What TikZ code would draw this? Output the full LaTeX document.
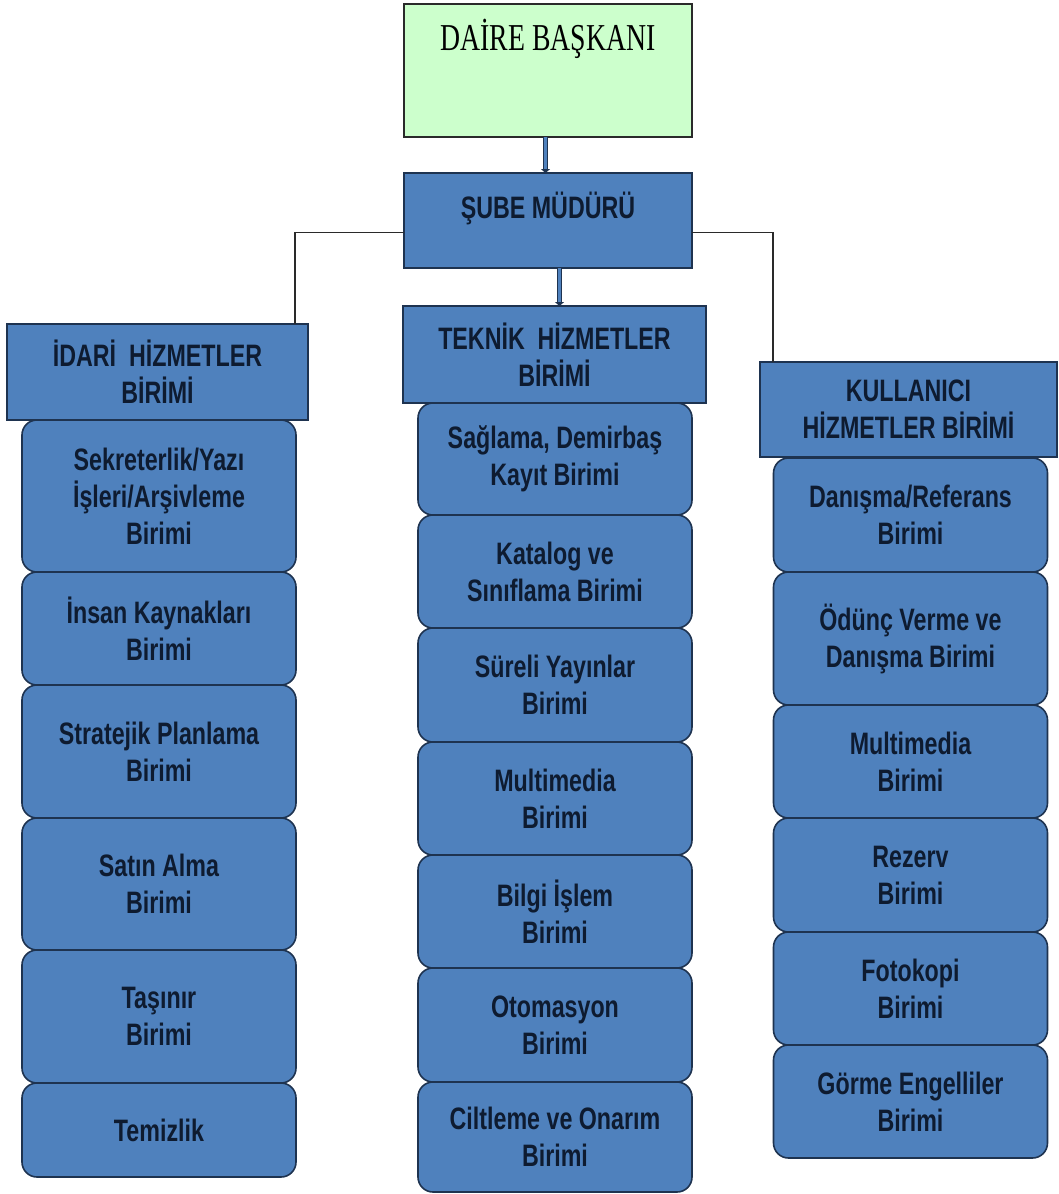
\documentclass[tikz,border=0pt]{standalone}
\usepackage{fontspec}
\usetikzlibrary{arrows.meta}
\newfontfamily\unitfont[FakeStretch=0.75]{Liberation Sans}
\newfontfamily\chieffont[FakeStretch=0.73]{Liberation Serif}
\definecolor{unitblue}{HTML}{4F81BD}
\definecolor{unitedge}{HTML}{1E3350}
\definecolor{unittext}{HTML}{0E1B30}
\definecolor{chiefgreen}{HTML}{CCFFCC}
\definecolor{linegray}{HTML}{2A2A2A}
\tikzset{
  unit/.style={draw=unitedge, fill=unitblue, rounded corners=15pt, line width=1.6pt,
    minimum width=274pt, inner sep=0pt, outer sep=0pt, align=center, text=unittext,
    font=\unitfont\bfseries\fontsize{31}{37}\selectfont},
  header/.style={draw=unitedge, fill=unitblue, line width=1.6pt, inner sep=0pt,
    outer sep=0pt, align=center, text=unittext,
    font=\unitfont\bfseries\fontsize{31}{37}\selectfont},
  link/.style={draw=linegray, line width=1.5pt},
  feed/.style={draw=unitedge, line width=1.2pt, double=unitblue, double distance=2.6pt,
    -{Triangle[length=4pt,width=9pt]}}
}
\begin{document}
\begin{tikzpicture}[x=1pt,y=-1pt]
\useasboundingbox (0,0) rectangle (1058,1194);
% top of the chart
\node[draw=linegray, fill=chiefgreen, line width=1.6pt, inner sep=0pt, outer sep=0pt,
  minimum width=288pt, text height=46pt, text depth=87pt, anchor=base, text=black,
  font=\chieffont\fontsize{38}{40}\selectfont] (daire) at (548,50) {DAİRE BAŞKANI};
\node[header, minimum width=288pt, text height=45pt, text depth=50pt, anchor=base] (sube) at (548,218) {ŞUBE MÜDÜRÜ};
\draw[feed] ([xshift=-2.5pt]daire.south) -- ([xshift=-2.5pt]sube.north);
% three service units
\node[header, minimum width=301pt, minimum height=96pt] (idari) at (157.5,372) {İDARİ\ \ HİZMETLER\\BİRİMİ};
\node[header, minimum width=303pt, minimum height=97pt] (teknik) at (554.5,354.5) {TEKNİK\ \ HİZMETLER\\BİRİMİ};
\node[header, minimum width=297pt, minimum height=95pt] (kullanici) at (908.5,409.5) {KULLANICI\\HİZMETLER BİRİMİ};
\coordinate (tap) at ([xshift=11.5pt]sube.south);
\draw[feed] (tap) -- (tap |- teknik.north);
\draw[link] ([yshift=-12pt]sube.west) -| ([xshift=-13pt]idari.north east);
\draw[link] ([yshift=-12pt]sube.east) -| ([xshift=13pt]kullanici.north west);
% idari hizmetler
\node[unit, minimum height=152pt] (sekreterlik) at (159,496) {Sekreterlik/Yazı\\İşleri/Arşivleme\\Birimi};
\node[unit, minimum height=113pt] (insan) at (159,628.5) {İnsan Kaynakları\\Birimi};
\node[unit, minimum height=133pt] (strateji) at (159,751.5) {Stratejik Planlama\\Birimi};
\node[unit, minimum height=132pt] (satin) at (159,884) {Satın Alma\\Birimi};
\node[unit, minimum height=133pt] (tasinir) at (159,1016.5) {Taşınır\\Birimi};
\node[unit, minimum height=94pt] (temizlik) at (159,1130) {Temizlik};
% teknik hizmetler
\node[unit, minimum height=112pt] (saglama) at (555,459) {Sağlama, Demirbaş\\Kayıt Birimi};
\node[unit, minimum height=113pt] (katalog) at (555,571.5) {Katalog ve\\Sınıflama Birimi};
\node[unit, minimum height=114pt] (sureli) at (555,685) {Süreli Yayınlar\\Birimi};
\node[unit, minimum height=113pt] (multiT) at (555,798.5) {Multimedia\\Birimi};
\node[unit, minimum height=113pt] (bilgi) at (555,911.5) {Bilgi İşlem\\Birimi};
\node[unit, minimum height=114pt] (otomasyon) at (555,1025) {Otomasyon\\Birimi};
\node[unit, minimum height=110pt] (ciltleme) at (555,1137) {Ciltleme ve Onarım\\Birimi};
% kullanici hizmetler
\node[unit, minimum height=114pt] (danisma) at (910.5,515) {Danışma/Referans\\Birimi};
\node[unit, minimum height=133pt] (odunc) at (910.5,638.5) {Ödünç Verme ve\\Danışma Birimi};
\node[unit, minimum height=113pt] (multiK) at (910.5,761.5) {Multimedia\\Birimi};
\node[unit, minimum height=114pt] (rezerv) at (910.5,875) {Rezerv\\Birimi};
\node[unit, minimum height=113pt] (fotokopi) at (910.5,988.5) {Fotokopi\\Birimi};
\node[unit, minimum height=113pt] (gorme) at (910.5,1101.5) {Görme Engelliler\\Birimi};
\end{tikzpicture}
\end{document}
